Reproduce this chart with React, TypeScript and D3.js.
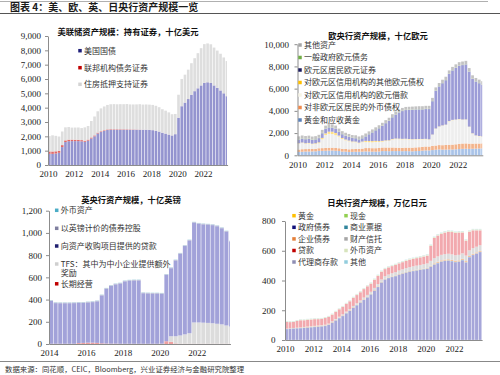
import React, { useEffect, useRef } from 'react';
import * as d3 from 'd3';

const W = 500;
const H = 375;

// 季度数据，自起始年份一季度起
// 美联储：持有证券，十亿美元（2010Q1-2023Q4）
const usTreasury = [
  777, 777, 800, 850, 1250, 1600, 1660, 1665,
  1665, 1665, 1650, 1620, 1700, 1850, 2000, 2200,
  2300, 2380, 2440, 2460, 2460, 2460, 2460, 2460,
  2460, 2460, 2460, 2460, 2460, 2460, 2460, 2450,
  2430, 2390, 2330, 2250, 2190, 2120, 2060, 2150,
  3300, 4100, 4350, 4600, 4900, 5150, 5350, 5550,
  5730, 5770, 5720, 5550, 5380, 5200, 5000, 4800,
];
const usAgency = [
  169, 165, 155, 147, 138, 118, 108, 104,
  98, 92, 86, 76, 72, 70, 64, 57,
  50, 45, 41, 39, 37, 36, 34, 33,
  32, 28, 24, 18, 12, 6, 4, 2,
  2, 2, 2, 2, 2, 2, 2, 2,
  2, 2, 2, 2, 2, 2, 2, 2,
  2, 2, 2, 2, 2, 2, 2, 2,
];
const usMbs = [
  1070, 1130, 1080, 990, 950, 910, 880, 840,
  850, 860, 840, 930, 950, 1150, 1320, 1490,
  1600, 1660, 1710, 1740, 1750, 1740, 1750, 1750,
  1760, 1740, 1740, 1750, 1770, 1750, 1760, 1760,
  1760, 1740, 1700, 1640, 1600, 1550, 1480, 1410,
  1600, 1900, 1950, 2050, 2200, 2300, 2450, 2600,
  2700, 2710, 2700, 2640, 2600, 2560, 2500, 2450,
];

// 欧央行，十亿欧元（2010Q1-2023Q4）
const ecbGold = [
  300, 320, 340, 340, 350, 360, 400, 400,
  410, 420, 430, 410, 390, 330, 330, 300,
  310, 320, 320, 330, 350, 340, 330, 330,
  340, 380, 380, 370, 380, 380, 380, 370,
  380, 370, 360, 380, 390, 420, 440, 440,
  470, 500, 530, 510, 510, 520, 520, 540,
  560, 580, 590, 580, 590, 600, 610, 620,
];
const ecbFx = [
  220, 230, 220, 225, 225, 220, 235, 245,
  260, 260, 255, 250, 245, 245, 240, 240,
  250, 255, 260, 270, 300, 310, 310, 310,
  320, 320, 320, 330, 320, 310, 300, 300,
  310, 320, 330, 330, 340, 340, 350, 350,
  370, 380, 390, 400, 420, 430, 440, 450,
  470, 480, 480, 470, 460, 460, 450, 450,
];
const ecbLending = [
  520, 560, 480, 500, 420, 440, 450, 800,
  1150, 1250, 1230, 1150, 1050, 900, 780, 720,
  620, 600, 500, 580, 540, 530, 530, 560,
  540, 530, 580, 600, 720, 770, 770, 770,
  760, 740, 730, 720, 710, 680, 660, 620,
  1000, 1500, 1650, 1750, 1800, 2100, 2200, 2200,
  2200, 2130, 2130, 1500, 900, 700, 650, 600,
];
const ecbOtherClaims = [
  40, 40, 45, 50, 50, 60, 80, 120,
  150, 200, 210, 200, 90, 80, 75, 70,
  65, 60, 60, 60, 110, 110, 110, 100,
  80, 70, 60, 50, 50, 50, 50, 40,
  40, 35, 30, 30, 30, 30, 30, 30,
  30, 30, 30, 30, 30, 30, 30, 30,
  30, 30, 30, 30, 30, 30, 30, 30,
];
const ecbSecurities = [
  340, 350, 360, 360, 350, 350, 380, 420,
  400, 380, 360, 360, 350, 340, 330, 320,
  310, 300, 290, 290, 400, 600, 780, 950,
  1150, 1350, 1550, 1750, 1950, 2150, 2350, 2500,
  2580, 2620, 2650, 2660, 2660, 2660, 2680, 2720,
  3000, 3400, 3600, 3800, 4000, 4250, 4450, 4650,
  4800, 4900, 4950, 4950, 4900, 4850, 4750, 4650,
];
const ecbGov = [
  35, 35, 35, 35, 34, 34, 33, 33,
  30, 30, 30, 30, 28, 28, 28, 27,
  27, 27, 26, 26, 25, 25, 25, 25,
  25, 25, 25, 25, 24, 24, 24, 24,
  24, 24, 24, 24, 23, 23, 23, 23,
  23, 23, 23, 23, 22, 22, 22, 22,
  22, 22, 22, 22, 21, 21, 21, 21,
];
const ecbOther = [
  250, 250, 255, 260, 260, 260, 265, 270,
  270, 270, 275, 275, 250, 250, 245, 245,
  240, 240, 240, 240, 240, 240, 245, 245,
  250, 250, 250, 255, 255, 255, 255, 260,
  260, 260, 260, 260, 265, 265, 270, 270,
  275, 280, 285, 290, 290, 290, 295, 295,
  300, 300, 300, 300, 300, 300, 300, 300,
];

// 英央行，十亿英镑（2014Q1-2023Q4）
const boeLtr = [
  2, 2, 2, 2, 2, 2, 8, 10,
  12, 12, 10, 6, 4, 3, 3, 2,
  2, 2, 2, 2, 2, 2, 2, 2,
  3, 25, 20, 5, 2, 2, 2, 2,
  2, 2, 2, 2, 2, 2, 2, 2,
];
const boeTfs = [
  0, 0, 0, 0, 0, 0, 0, 0,
  0, 0, 0, 0, 0, 0, 0, 0,
  0, 0, 0, 0, 0, 0, 0, 0,
  0, 0, 50, 65, 75, 85, 95, 192,
  192, 190, 188, 185, 180, 175, 165, 155,
];
const boeApf = [
  385, 366, 365, 365, 365, 366, 362, 360,
  362, 365, 374, 431, 493, 519, 534, 542,
  562, 568, 570, 570, 455, 453, 452, 452,
  449, 597, 612, 682, 735, 795, 835, 898,
  888, 885, 884, 883, 878, 865, 845, 765,
];
const boeGilt = [
  5, 5, 5, 5, 5, 5, 5, 5,
  5, 5, 5, 5, 5, 5, 5, 5,
  5, 5, 5, 5, 5, 5, 5, 5,
  5, 5, 5, 5, 5, 5, 5, 5,
  5, 5, 5, 5, 5, 5, 5, 5,
];
const boeFx = [
  3, 3, 3, 3, 3, 3, 3, 3,
  3, 3, 3, 3, 3, 3, 3, 3,
  3, 3, 3, 3, 3, 3, 3, 3,
  3, 3, 3, 3, 3, 3, 3, 3,
  3, 3, 3, 3, 3, 3, 3, 3,
];

// 日央行，万亿日元（2010Q1-2023Q4）
const bojGold = [
  0.4, 0.4, 0.4, 0.4, 0.4, 0.4, 0.4, 0.4,
  0.4, 0.4, 0.4, 0.4, 0.4, 0.4, 0.4, 0.4,
  0.4, 0.4, 0.4, 0.4, 0.4, 0.4, 0.4, 0.4,
  0.4, 0.4, 0.4, 0.4, 0.4, 0.4, 0.4, 0.4,
  0.4, 0.4, 0.4, 0.4, 0.4, 0.4, 0.4, 0.4,
  0.4, 0.4, 0.4, 0.4, 0.4, 0.4, 0.4, 0.4,
  0.4, 0.4, 0.4, 0.4, 0.4, 0.4, 0.4, 0.4,
];
const bojCash = [
  0.3, 0.3, 0.3, 0.3, 0.3, 0.3, 0.3, 0.3,
  0.3, 0.3, 0.3, 0.3, 0.3, 0.3, 0.3, 0.3,
  0.3, 0.3, 0.3, 0.3, 0.3, 0.3, 0.3, 0.3,
  0.3, 0.3, 0.3, 0.3, 0.3, 0.3, 0.3, 0.3,
  0.3, 0.3, 0.3, 0.3, 0.3, 0.3, 0.3, 0.3,
  0.3, 0.3, 0.3, 0.3, 0.3, 0.3, 0.3, 0.3,
  0.3, 0.3, 0.3, 0.3, 0.3, 0.3, 0.3, 0.3,
];
const bojJgb = [
  72, 74, 76, 77, 78, 80, 82, 84,
  86, 88, 90, 93, 100, 115, 130, 145,
  160, 178, 195, 215, 232, 250, 268, 285,
  305, 330, 355, 385, 405, 415, 422, 428,
  438, 445, 452, 458, 462, 466, 470, 474,
  478, 490, 505, 515, 525, 530, 532, 528,
  522, 525, 535, 520, 555, 570, 580, 590,
];
const bojCp = [
  1.5, 1.5, 1.8, 2, 2, 2, 2, 2,
  2, 2, 2, 2, 2, 2, 2, 2,
  2, 2, 2, 2, 2.2, 2.2, 2.2, 2.2,
  2.2, 2.2, 2.2, 2.2, 2.2, 2.2, 2.2, 2.2,
  2.2, 2.2, 2.2, 2.2, 2.3, 2.3, 2.3, 2.3,
  2.5, 3.5, 3, 3, 2.8, 2.7, 2.6, 2.6,
  2.5, 2.4, 2.4, 2.3, 2.2, 2.1, 2, 2,
];
const bojCorp = [
  0.5, 0.5, 1, 1.5, 2, 2.5, 2.8, 3,
  3, 3, 3, 3, 3, 3, 3, 3,
  3.2, 3.2, 3.2, 3.2, 3.2, 3.2, 3.2, 3.2,
  3.2, 3.2, 3.2, 3.2, 3.2, 3.2, 3.2, 3.2,
  3.2, 3.2, 3.2, 3.2, 3.2, 3.2, 3.2, 3.2,
  3.5, 5, 7, 7.5, 7.5, 7.5, 7.5, 7.5,
  7.5, 7.5, 7.5, 7.5, 7, 7, 6.5, 6.5,
];
const bojTrust = [
  1.4, 1.4, 1.5, 1.6, 2, 2.5, 2.8, 3,
  3.3, 3.5, 3.8, 4, 4.5, 5, 5.5, 6,
  6.5, 7, 7.5, 8, 9, 10, 11, 12,
  13, 14, 15, 16, 17.5, 19, 20.5, 22,
  23, 24, 25, 26, 27, 28, 28.5, 29,
  30, 33, 35, 36, 36.5, 36.5, 37, 37,
  37, 37, 37, 37, 37.5, 37.5, 38, 38,
];
const bojLoans = [
  45, 42, 40, 45, 48, 45, 45, 45,
  45, 43, 42, 45, 45, 45, 48, 50,
  50, 52, 52, 55, 55, 55, 57, 58,
  55, 55, 55, 52, 48, 48, 48, 48,
  48, 48, 49, 50, 50, 50, 51, 52,
  52, 100, 135, 140, 140, 145, 148, 150,
  150, 150, 140, 100, 125, 120, 110, 100,
];
const bojFx = [
  5, 5, 5, 5, 5, 5, 5, 5,
  5, 5, 5, 5, 5, 5, 5, 5,
  5, 5, 5, 5, 6, 6, 6, 6,
  6, 6, 6, 6, 6, 6, 6, 6,
  6, 6, 6, 6, 6.5, 6.5, 6.5, 6.5,
  7, 7, 7, 7, 7, 7, 7, 7,
  7, 7, 7, 7, 7, 7, 7, 7,
];
const bojAgency = [
  0.2, 0.2, 0.2, 0.2, 0.2, 0.2, 0.2, 0.2,
  0.2, 0.2, 0.2, 0.2, 0.2, 0.2, 0.2, 0.2,
  0.2, 0.2, 0.2, 0.2, 0.2, 0.2, 0.2, 0.2,
  0.2, 0.2, 0.2, 0.2, 0.2, 0.2, 0.2, 0.2,
  0.2, 0.2, 0.2, 0.2, 0.2, 0.2, 0.2, 0.2,
  0.2, 0.2, 0.2, 0.2, 0.2, 0.2, 0.2, 0.2,
  0.2, 0.2, 0.2, 0.2, 0.2, 0.2, 0.2, 0.2,
];
const bojOther = [
  1.5, 1.5, 1.5, 1.5, 1.5, 1.5, 1.5, 1.5,
  1.5, 1.5, 1.5, 1.5, 1.5, 1.5, 1.5, 1.5,
  1.5, 1.5, 1.5, 1.5, 1.5, 1.5, 1.5, 1.5,
  2, 2, 2, 2, 2, 2, 2, 2,
  2, 2, 2, 2, 2, 2, 2, 2,
  2.5, 2.5, 2.5, 2.5, 2.5, 2.5, 2.5, 2.5,
  2.5, 2.5, 2.5, 2.5, 2.5, 2.5, 2.5, 2.5,
];

const yearTicks10 = [2010, 2012, 2014, 2016, 2018, 2020, 2022];
const yearTicks14 = [2014, 2016, 2018, 2020, 2022];

const CJK = "'Noto Sans CJK SC', sans-serif";
const NUM = "'Liberation Serif', 'Times New Roman', serif";

type Series = { name: string; values: number[]; fill: string; marker: string };
type LegendItem = { k: number; x: number; y: number };
type Panel = {
  start: number;
  end: number;
  x0: number;
  ppy: number;
  yBase: number;
  yTop: number;
  yMax: number;
  yTicks: number[];
  yPad: number;
  xTicks: number[];
  series: Series[]; // 自下而上堆叠
  title: string;
  titleX: number;
  titleY: number;
  legend: LegendItem[];
  lineGap?: number;
};

const panels: Panel[] = [
  {
    start: 2010, end: 2023.9, x0: 48, ppy: 12.92, yBase: 165, yTop: 36, yMax: 9000,
    yTicks: [0, 1000, 2000, 3000, 4000, 5000, 6000, 7000, 8000, 9000], yPad: 4,
    xTicks: yearTicks10,
    series: [
      { name: '美国国债', values: usTreasury, fill: '#9494cf', marker: '#1f1f7a' },
      { name: '联邦机构债务证券', values: usAgency, fill: '#e06a6a', marker: '#c00000' },
      { name: '住房抵押支持证券', values: usMbs, fill: '#dedede', marker: '#d4d4d4' },
    ],
    title: '美联储资产规模：持有证券，十亿美元', titleX: 128, titleY: 34.6,
    legend: [
      { k: 0, x: 80, y: 50.7 },
      { k: 1, x: 80, y: 67.7 },
      { k: 2, x: 80, y: 84.3 },
    ],
  },
  {
    start: 2010, end: 2023.87, x0: 297.5, ppy: 13.36, yBase: 155.3, yTop: 44.2, yMax: 10000,
    yTicks: [0, 2000, 4000, 6000, 8000, 10000], yPad: 5.5,
    xTicks: yearTicks10,
    series: [
      { name: '黄金和应收黄金', values: ecbGold, fill: '#a9c3e8', marker: '#5b80b8' },
      { name: '对非欧元区居民的外币债权', values: ecbFx, fill: '#f3b48c', marker: '#ee8a4e' },
      { name: '对欧元区信用机构的欧元借款', values: ecbLending, fill: '#eeeeee', marker: '#f6f4e6' },
      { name: '对欧元区信用机构的其他欧元债权', values: ecbOtherClaims, fill: '#ffe08a', marker: '#ffc000' },
      { name: '欧元区居民欧元证券', values: ecbSecurities, fill: '#9c9cd7', marker: '#1b1b5e' },
      { name: '一般政府欧元债务', values: ecbGov, fill: '#a9d18e', marker: '#70ad47' },
      { name: '其他资产', values: ecbOther, fill: '#c3c3c3', marker: '#a5a5a5' },
    ],
    title: '欧央行资产规模，十亿欧元', titleX: 378, titleY: 39.2,
    legend: [
      { k: 6, x: 300, y: 45 },
      { k: 5, x: 300, y: 57.5 },
      { k: 4, x: 300, y: 70 },
      { k: 3, x: 300, y: 82.5 },
      { k: 2, x: 300, y: 95 },
      { k: 1, x: 300, y: 107.5 },
      { k: 0, x: 300, y: 120 },
    ],
  },
  {
    start: 2014, end: 2023.83, x0: 49, ppy: 18.46, yBase: 344, yTop: 210.7, yMax: 1200,
    yTicks: [0, 200, 400, 600, 800, 1000, 1200], yPad: 4,
    xTicks: yearTicks14,
    series: [
      { name: '长期经营', values: boeLtr, fill: '#f0a0a0', marker: '#c00000' },
      { name: 'TFS：其中为中小企业提供额外\n奖励', values: boeTfs, fill: '#dcdcdc', marker: '#cfcfcf' },
      { name: '向资产收购项目提供的贷款', values: boeApf, fill: '#a2a2d9', marker: '#1f1f6f' },
      { name: '以英镑计价的债券控股', values: boeGilt, fill: '#b4b4cc', marker: '#7f7f9f' },
      { name: '外币资产', values: boeFx, fill: '#a5d5e2', marker: '#4bacc6' },
    ],
    title: '英央行资产规模，十亿英镑', titleX: 131, titleY: 203,
    legend: [
      { k: 4, x: 56.7, y: 210.3 },
      { k: 3, x: 56.7, y: 228.3 },
      { k: 2, x: 56.7, y: 246 },
      { k: 1, x: 56.7, y: 264 },
      { k: 0, x: 56.7, y: 283.8 },
    ],
    lineGap: 9.6,
  },
  {
    start: 2010, end: 2024, x0: 285, ppy: 14.08, yBase: 340, yTop: 221, yMax: 800,
    yTicks: [0, 200, 400, 600, 800], yPad: 6.5,
    xTicks: yearTicks10,
    series: [
      { name: '黄金', values: bojGold, fill: '#ffd966', marker: '#ffc000' },
      { name: '现金', values: bojCash, fill: '#c5e0b4', marker: '#92d050' },
      { name: '政府债券', values: bojJgb, fill: '#a6a6d9', marker: '#10107a' },
      { name: '商业票据', values: bojCp, fill: '#8fc1d0', marker: '#31859c' },
      { name: '企业债券', values: bojCorp, fill: '#f4c09a', marker: '#e4803a' },
      { name: '财产信托', values: bojTrust, fill: '#dcdcdc', marker: '#a6a6a6' },
      { name: '贷款', values: bojLoans, fill: '#f2a9ae', marker: '#c00000' },
      { name: '外币资产', values: bojFx, fill: '#e6eed5', marker: '#d7e4bd' },
      { name: '代理商存款', values: bojAgency, fill: '#c5c5de', marker: '#8e8eb4' },
      { name: '其他', values: bojOther, fill: '#bfe3ec', marker: '#93cddd' },
    ],
    title: '日央行资产规模，万亿日元', titleX: 377, titleY: 206.3,
    legend: [
      { k: 0, x: 294, y: 215.7 }, { k: 1, x: 346, y: 215.7 },
      { k: 2, x: 294, y: 227.3 }, { k: 3, x: 346, y: 227.3 },
      { k: 4, x: 294, y: 238.9 }, { k: 5, x: 346, y: 238.9 },
      { k: 6, x: 294, y: 250.5 }, { k: 7, x: 346, y: 250.5 },
      { k: 8, x: 294, y: 262 }, { k: 9, x: 346, y: 262 },
    ],
  },
];

function drawPanel(svg: d3.Selection<SVGSVGElement, unknown, null, undefined>, p: Panel) {
  const g = svg.append('g');
  const x = d3
    .scaleLinear()
    .domain([p.start, p.end])
    .range([p.x0, p.x0 + (p.end - p.start) * p.ppy]);
  const y = d3.scaleLinear().domain([0, p.yMax]).range([p.yBase, p.yTop]);

  const n = p.series[0].values.length;
  const rows = d3.range(n).map((i) => {
    const r: Record<string, number> = { t: p.start + i / 4 };
    p.series.forEach((s, k) => (r['s' + k] = s.values[i]));
    return r;
  });
  const layers = d3
    .stack<Record<string, number>>()
    .keys(p.series.map((_, k) => 's' + k))(rows);

  layers.forEach((layer, k) => {
    g.append('g')
      .attr('fill', p.series[k].fill)
      .selectAll('rect')
      .data(layer)
      .join('rect')
      .attr('x', (d) => x(d.data.t))
      .attr('width', (d) =>
        Math.max(0, x(Math.min(d.data.t + 0.25, p.end)) - x(d.data.t) - 0.6)
      )
      .attr('y', (d) => y(d[1]))
      .attr('height', (d) => Math.max(0, y(d[0]) - y(d[1])));
  });

  // Axes
  const ya = g
    .append('g')
    .attr('transform', `translate(${p.x0},0)`)
    .call(
      d3
        .axisLeft(y)
        .tickValues(p.yTicks)
        .tickFormat(d3.format(','))
        .tickSize(3)
        .tickSizeOuter(0)
        .tickPadding(p.yPad)
    );
  const xa = g
    .append('g')
    .attr('transform', `translate(0,${p.yBase})`)
    .call(
      d3
        .axisBottom(x)
        .tickValues(p.xTicks)
        .tickFormat(d3.format('d'))
        .tickSize(0)
        .tickPadding(6)
    );
  [ya, xa].forEach((a) => {
    a.attr('font-family', NUM).attr('font-size', 9);
    a.selectAll('path, line').attr('stroke', '#8c8c8c');
    a.selectAll('text').attr('fill', '#222');
  });

  // Title
  g.append('text')
    .attr('x', p.titleX)
    .attr('y', p.titleY)
    .attr('text-anchor', 'middle')
    .attr('font-family', CJK)
    .attr('font-weight', 700)
    .attr('font-size', 8.3)
    .attr('fill', '#111')
    .text(p.title);

  // Legend
  const gap = p.lineGap ?? 10.7;
  p.legend.forEach((item) => {
    const s = p.series[item.k];
    g.append('rect')
      .attr('x', item.x - 1.75)
      .attr('y', item.y - 1.75)
      .attr('width', 3.5)
      .attr('height', 3.5)
      .attr('fill', s.marker);
    s.name.split('\n').forEach((ln, j) => {
      g.append('text')
        .attr('x', item.x + 4)
        .attr('y', item.y + j * gap)
        .attr('dy', '0.36em')
        .attr('font-family', CJK)
        .attr('font-size', 8)
        .attr('fill', '#333')
        .text(ln);
    });
  });
}

export default function App() {
  const ref = useRef<SVGSVGElement | null>(null);

  useEffect(() => {
    if (!ref.current) return;
    const svg = d3.select(ref.current);
    svg.selectAll('*').remove();

    svg.append('rect').attr('width', W).attr('height', H).attr('fill', '#fff');

    // Header
    svg.append('line').attr('x1', 0).attr('x2', 488).attr('y1', 1.5).attr('y2', 1.5)
      .attr('stroke', '#b0b0b0').attr('stroke-width', 1);
    svg.append('text')
      .attr('x', 10).attr('y', 10.5)
      .attr('font-family', CJK).attr('font-weight', 700).attr('font-size', 10)
      .attr('fill', '#1a1a1a')
      .text('图表 4：美、欧、英、日央行资产规模一览');
    svg.append('line').attr('x1', 0).attr('x2', W).attr('y1', 13.5).attr('y2', 13.5)
      .attr('stroke', '#555').attr('stroke-width', 1.2);

    panels.forEach((p) => drawPanel(svg, p));

    // Footer
    svg.append('line').attr('x1', 0).attr('x2', W).attr('y1', 361.5).attr('y2', 361.5)
      .attr('stroke', '#888').attr('stroke-width', 1);
    svg.append('text')
      .attr('x', 5).attr('y', 372)
      .attr('font-family', CJK).attr('font-size', 7.4)
      .attr('fill', '#333')
      .text('数据来源：同花顺，CEIC，Bloomberg，兴业证券经济与金融研究院整理');
  }, []);

  return (
    <svg
      ref={ref}
      width={W}
      height={H}
      style={{ position: 'absolute', left: 0, top: 0 }}
    />
  );
}
